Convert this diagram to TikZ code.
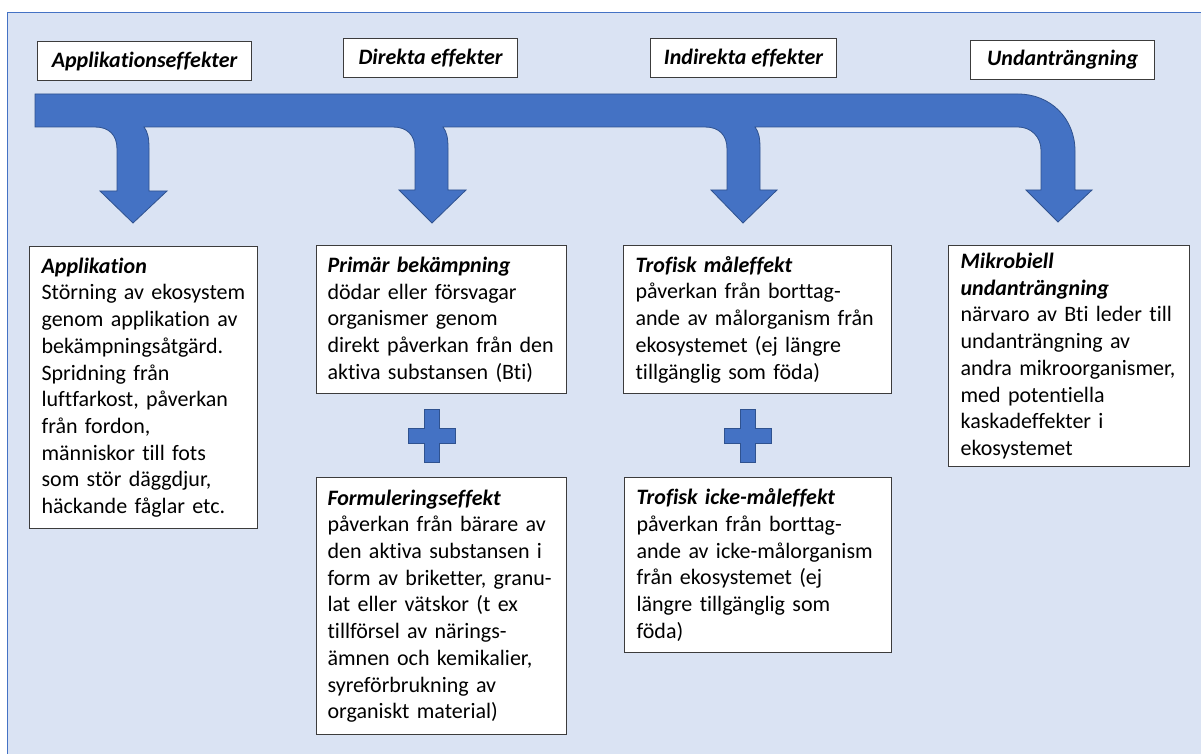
\documentclass[tikz,border=0pt]{standalone}
\usepackage{fontspec}
\setmainfont{Carlito}[Ligatures=NoCommon]
\usepackage{tikz}
\usetikzlibrary{calc,positioning}

\definecolor{bgblue}{HTML}{DAE3F3}
\definecolor{arrowblue}{HTML}{4472C4}
\definecolor{arrowedge}{HTML}{2F528F}
\definecolor{boxedge}{HTML}{3C3C3C}
\newcommand{\effont}{\fontsize{22}{26.7}\selectfont}
\newcommand{\hd}[1]{\textbf{\textit{#1}}}

\tikzset{
  lbl/.style={draw=boxedge, fill=white, line width=1.2pt, anchor=north west,
    inner sep=0pt, font=\effont\bfseries\itshape},
  effbox/.style={draw=boxedge, fill=white, line width=1.2pt, anchor=north west,
    align=left, inner xsep=12pt, inner ysep=0pt, font=\effont}
}

\begin{document}
\begin{tikzpicture}[x=1pt, y=-1pt]
   \useasboundingbox (0,0) rectangle (1201,754);
   \fill[white] (0,0) rectangle (1201,754);
   \draw[fill=bgblue, draw=arrowblue, line width=1pt] (7,13) rectangle (1215,770);

   %headings
   \node[lbl, minimum width=214pt, minimum height=39pt] (lblApp) at (37,41) {Applikationseffekter};
   \node[lbl, minimum width=174pt, minimum height=39pt] (lblDir) at (343,38) {Direkta effekter};
   \node[lbl, minimum width=186pt, minimum height=39pt] (lblInd) at (650,38) {Indirekta effekter};
   \node[lbl, minimum width=184pt, minimum height=39pt] (lblUnd) at (970,40) {Undanträngning};

   %big arrow
   \filldraw[fill=arrowblue, draw=arrowedge, line width=0.8pt]
     (35,94) -- (1018,94)
     .. controls (1050,94) and (1075,118) .. (1075,151)
     -- (1075,190) -- (1092,190) -- (1058,222) -- (1026,190) -- (1041,190) -- (1041,150)
     .. controls (1041,137) and (1031,127) .. (1018,127)
     -- (755,127) .. controls (759,132) and (760,139) .. (760,148)
     -- (760,190) -- (777,190) -- (743,223) -- (711,190) -- (727,190) -- (727,149)
     .. controls (727,135) and (719,127) .. (705,127)
     -- (443,127) .. controls (447,132) and (448,139) .. (448,148)
     -- (448,190) -- (466,190) -- (432,223) -- (399,190) -- (415,190) -- (415,149)
     .. controls (415,135) and (407,127) .. (393,127)
     -- (144,127) .. controls (148,132) and (149,139) .. (149,148)
     -- (149,191) -- (167,191) -- (133,223) -- (100,191) -- (117,191) -- (117,149)
     .. controls (117,135) and (109,127) .. (95,127)
     -- (35,127) -- cycle;

   %effect boxes
   \node[effbox, text width=204pt, minimum height=282pt] (boxApp) at (29,246)
     {\hd{Applikation}\\Störning av ekosystem\\genom applikation av\\bekämpningsåtgärd.\\Spridning från\\luftfarkost, påverkan\\från fordon,\\människor till fots\\som stör däggdjur,\\häckande fåglar etc.};
   \node[effbox, inner xsep=11pt, text width=228pt, minimum height=148pt] (boxPrim) at (316,245)
     {\hd{Primär bekämpning}\\dödar eller försvagar\\organismer genom\\direkt påverkan från den\\aktiva substansen (Bti)};
   \node[effbox, inner xsep=11pt, text width=228pt, minimum height=257pt] (boxForm) at (316,477)
     {\hd{Formuleringseffekt}\\påverkan från bärare av\\den aktiva substansen i\\form av briketter, granu-\\lat eller vätskor (t ex\\tillförsel av närings-\\ämnen och kemikalier,\\syreförbrukning av\\organiskt material)};
   \node[effbox, text width=244pt, minimum height=148pt] (boxTrofM) at (623,245)
     {\hd{Trofisk måleffekt}\\påverkan från borttag-\\ande av målorganism från\\ekosystemet (ej längre\\tillgänglig som föda)};
   \node[effbox, text width=243pt, minimum height=175pt] (boxTrofI) at (624,477)
     {\hd{Trofisk icke-måleffekt}\\påverkan från borttag-\\ande av icke-målorganism\\från ekosystemet (ej\\längre tillgänglig som\\föda)};
   \node[effbox, text width=217pt, minimum height=221pt] (boxMikro) at (948,245)
     {\hd{Mikrobiell}\\\hd{undanträngning}\\närvaro av Bti leder till\\undanträngning av\\andra mikroorganismer,\\med potentiella\\kaskadeffekter i\\ekosystemet};

   %plus signs
   \filldraw[fill=arrowblue, draw=arrowedge, line width=0.8pt]
     (424,409) -- (439,409) -- (439,428) -- (455,428) -- (455,443) -- (439,443)
     -- (439,462) -- (424,462) -- (424,443) -- (408,443) -- (408,428) -- (424,428) -- cycle;
   \filldraw[fill=arrowblue, draw=arrowedge, line width=0.8pt]
     (740,409) -- (755,409) -- (755,428) -- (771,428) -- (771,443) -- (755,443)
     -- (755,462) -- (740,462) -- (740,443) -- (724,443) -- (724,428) -- (740,428) -- cycle;
\end{tikzpicture}
\end{document}
